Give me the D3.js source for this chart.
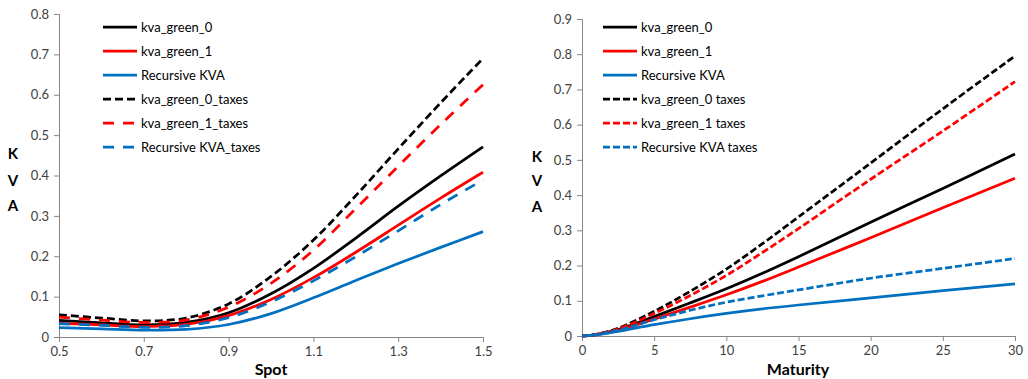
<!DOCTYPE html>
<html><head><meta charset="utf-8">
<script src="https://cdn.jsdelivr.net/npm/d3@7"></script>
<style>
body{margin:0;background:#fff;}
svg text{font-family:Lato,"Open Sans",sans-serif;}
</style></head>
<body><svg id="c" width="1028" height="379"></svg>
<script>
// ---- Left chart data (Spot) ----
const spot = [0.5,0.6,0.7,0.8,0.9,1.0,1.1,1.2,1.3,1.4,1.5];
const spotKvaGreen0      = [0.041,0.035,0.030,0.036,0.060,0.107,0.170,0.245,0.324,0.399,0.471];
const spotKvaGreen1      = [0.034,0.030,0.026,0.031,0.053,0.093,0.147,0.210,0.277,0.344,0.408];
const spotRecursive      = [0.023,0.020,0.017,0.019,0.031,0.058,0.097,0.140,0.182,0.222,0.261];
const spotKvaGreen0Tax   = [0.055,0.047,0.040,0.047,0.082,0.150,0.240,0.350,0.466,0.580,0.690];
const spotKvaGreen1Tax   = [0.049,0.042,0.036,0.042,0.074,0.133,0.215,0.318,0.423,0.526,0.625];
const spotRecursiveTax   = [0.033,0.029,0.024,0.028,0.048,0.087,0.139,0.199,0.263,0.328,0.389];
const spotTicks = [0.5,0.7,0.9,1.1,1.3,1.5];
const spotYTicks = [0,0.1,0.2,0.3,0.4,0.5,0.6,0.7,0.8];
const spotNames = ["kva_green_0","kva_green_1","Recursive KVA","kva_green_0_taxes","kva_green_1_taxes","Recursive KVA_taxes"];

// ---- Right chart data (Maturity) ----
const maturity = [0,1,2.5,5,7.5,10,12.5,15,20,25,30];
const matKvaGreen0    = [0,0.004,0.018,0.055,0.094,0.134,0.178,0.225,0.323,0.419,0.517];
const matKvaGreen1    = [0,0.004,0.016,0.048,0.082,0.117,0.155,0.196,0.279,0.364,0.448];
const matRecursive    = [0,0.003,0.013,0.032,0.049,0.064,0.077,0.088,0.108,0.129,0.148];
const matKvaGreen0Tax = [0,0.005,0.022,0.070,0.127,0.190,0.262,0.338,0.491,0.645,0.795];
const matKvaGreen1Tax = [0,0.005,0.020,0.064,0.115,0.172,0.237,0.305,0.445,0.582,0.722];
const matRecursiveTax = [0,0.004,0.016,0.046,0.073,0.096,0.114,0.131,0.164,0.192,0.220];
const matTicks = [0,5,10,15,20,25,30];
const matYTicks = [0,0.1,0.2,0.3,0.4,0.5,0.6,0.7,0.8,0.9];
const matNames = ["kva_green_0","kva_green_1","Recursive KVA","kva_green_0 taxes","kva_green_1 taxes","Recursive KVA taxes"];

const colors = ["#000000","#FF0000","#0070C0","#000000","#FF0000","#0070C0"];
const svg = d3.select("#c");
const axisColor = "#868686";
const textColor = "#404040";

function drawChart(cfg){
  const x = d3.scaleLinear().domain(cfg.xDomain).range(cfg.xRange);
  const y = d3.scaleLinear().domain(cfg.yDomain).range(cfg.yRange);
  const g = svg.append("g");
  const xa = g.append("g").attr("transform",`translate(0,${cfg.yRange[0]})`)
    .call(d3.axisBottom(x).tickValues(cfg.xTicks).tickSize(5).tickPadding(5).tickFormat(cfg.xFmt));
  const ya = g.append("g").attr("transform",`translate(${cfg.xRange[0]},0)`)
    .call(d3.axisLeft(y).tickValues(cfg.yTicks).tickSize(5).tickPadding(5).tickFormat(d=> d===0?"0":d3.format(".1f")(d)));
  [xa,ya].forEach(a=>{
    a.selectAll("path,line").attr("stroke",axisColor).attr("stroke-width",1);
    a.selectAll("text").attr("fill",textColor).style("font-size","13px").style("font-family","Lato, sans-serif");
  });
  const line = d3.line().x(d=>x(d[0])).y(d=>y(d[1])).curve(d3.curveCatmullRom.alpha(0.5));
  cfg.series.forEach((s,i)=>{
    g.append("path").datum(cfg.xs.map((v,j)=>[v,s[j]]))
      .attr("d",line).attr("fill","none").attr("stroke",colors[i])
      .attr("stroke-width",2.75).attr("stroke-dasharray",cfg.dash[i]);
  });
  // legend
  cfg.names.forEach((n,i)=>{
    const yy = cfg.legY + i*24;
    g.append("line").attr("x1",cfg.legX).attr("x2",cfg.legX+34).attr("y1",yy).attr("y2",yy)
      .attr("stroke",colors[i]).attr("stroke-width",2.75).attr("stroke-dasharray",cfg.dash[i]);
    g.append("text").attr("x",cfg.legX+38).attr("y",yy).attr("dy","0.35em")
      .attr("fill","#000").style("font-size","13px").text(n);
  });
  // titles
  g.append("text").attr("x",cfg.xTitleX).attr("y",375).attr("text-anchor","middle")
    .style("font-size","16px").style("font-weight","bold").attr("fill","#000").text(cfg.xTitle);
  ["K","V","A"].forEach((c,i)=>{
    g.append("text").attr("x",cfg.kvaX).attr("y",cfg.kvaY[i]).attr("text-anchor","middle").attr("dy","0.36em")
      .style("font-size","15px").style("font-weight","bold").attr("fill","#000").text(c);
  });
}

drawChart({
  xs: spot, series:[spotKvaGreen0,spotKvaGreen1,spotRecursive,spotKvaGreen0Tax,spotKvaGreen1Tax,spotRecursiveTax],
  names: spotNames, xDomain:[0.5,1.5], xRange:[59,483], yDomain:[0,0.8], yRange:[337,14],
  xTicks: spotTicks, yTicks: spotYTicks, xFmt: d3.format(".1f"),
  dash:[null,null,null,"8,4","11,9","11,9"], legX:103, legY:27,
  xTitle:"Spot", xTitleX:271, kvaX:13, kvaY:[154,181,206]
});
drawChart({
  xs: maturity, series:[matKvaGreen0,matKvaGreen1,matRecursive,matKvaGreen0Tax,matKvaGreen1Tax,matRecursiveTax],
  names: matNames, xDomain:[0,30], xRange:[582,1015], yDomain:[0,0.9], yRange:[336,19],
  xTicks: matTicks, yTicks: matYTicks, xFmt: d3.format("d"),
  dash:[null,null,null,"7,3","7,3","7,3"], legX:603, legY:27,
  xTitle:"Maturity", xTitleX:798, kvaX:537, kvaY:[157,181,207]
});
</script></body></html>
